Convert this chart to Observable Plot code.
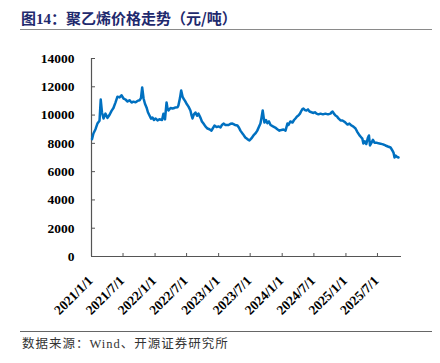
<!DOCTYPE html>
<html><head><meta charset="utf-8">
<script src="https://cdn.jsdelivr.net/npm/d3@7"></script>
<script src="https://cdn.jsdelivr.net/npm/@observablehq/plot@0.6"></script>
<style>
html,body{margin:0;padding:0;background:#fff;}
body{width:440px;height:363px;position:relative;overflow:hidden;}
#title{position:absolute;left:21px;top:7px;font-weight:bold;font-size:15px;font-family:"Liberation Serif","Noto Sans CJK SC",serif;color:#1f2a6e;white-space:nowrap;}
#title .cjk{font-family:"Noto Sans CJK SC",sans-serif;}
#rule1{position:absolute;left:20px;top:29px;width:412px;height:0;border-top:1.5px solid #8a8a8a;}
#chart{position:absolute;left:0;top:40px;}
#rule2{position:absolute;left:20px;top:331px;width:412px;height:0;border-top:1px solid #666;}
#caption{position:absolute;left:22px;top:333px;font-size:12.5px;font-family:"Liberation Serif","Noto Sans CJK SC",serif;color:#333;white-space:nowrap;letter-spacing:1px;}
</style>
</head><body>
<div id="title"><span class="cjk">图</span>14<span class="cjk">：聚乙烯价格走势（元/吨）</span></div>
<div id="rule1"></div>
<div id="chart"></div>
<div id="rule2"></div>
<div id="caption"><span style="font-family:'Noto Sans CJK SC'">数据来源：</span>Wind<span style="font-family:'Noto Sans CJK SC'">、开源证券研究所</span></div>
<script>
const dates = ["2021-01-04","2021-01-12","2021-01-24","2021-02-04","2021-02-16","2021-02-23","2021-03-02","2021-03-11","2021-03-22","2021-04-03","2021-04-14","2021-04-26","2021-05-07","2021-05-19","2021-05-30","2021-06-11","2021-06-22","2021-07-04","2021-07-15","2021-07-27","2021-08-07","2021-08-19","2021-08-30","2021-09-11","2021-09-22","2021-10-04","2021-10-12","2021-10-19","2021-10-27","2021-11-04","2021-11-13","2021-11-21","2021-11-30","2021-12-09","2021-12-17","2021-12-26","2022-01-03","2022-01-15","2022-01-26","2022-02-10","2022-02-18","2022-02-27","2022-03-08","2022-03-13","2022-03-19","2022-03-31","2022-04-11","2022-04-22","2022-04-28","2022-05-10","2022-05-15","2022-05-24","2022-05-31","2022-06-08","2022-06-13","2022-06-22","2022-06-30","2022-07-12","2022-07-23","2022-07-29","2022-08-04","2022-08-12","2022-08-21","2022-08-30","2022-09-07","2022-09-19","2022-09-27","2022-10-06","2022-10-17","2022-10-29","2022-11-09","2022-11-21","2022-11-30","2022-12-08","2022-12-20","2022-12-31","2023-01-12","2023-01-20","2023-01-29","2023-02-09","2023-02-27","2023-03-10","2023-03-21","2023-04-05","2023-04-19","2023-04-28","2023-05-06","2023-05-21","2023-06-03","2023-06-15","2023-06-27","2023-07-08","2023-07-20","2023-07-31","2023-08-11","2023-08-20","2023-08-29","2023-09-04","2023-09-11","2023-09-17","2023-09-21","2023-09-30","2023-10-08","2023-10-17","2023-10-26","2023-11-09","2023-11-22","2023-12-04","2023-12-16","2023-12-28","2024-01-08","2024-01-20","2024-01-31","2024-02-06","2024-02-17","2024-02-29","2024-03-09","2024-03-17","2024-03-26","2024-04-03","2024-04-12","2024-04-21","2024-04-26","2024-05-02","2024-05-11","2024-05-19","2024-05-28","2024-06-06","2024-06-17","2024-06-29","2024-07-07","2024-07-16","2024-07-27","2024-08-08","2024-08-22","2024-09-05","2024-09-20","2024-10-04","2024-10-10","2024-10-16","2024-10-24","2024-11-02","2024-11-11","2024-11-19","2024-12-01","2024-12-12","2024-12-21","2024-12-29","2025-01-10","2025-01-21","2025-02-02","2025-02-13","2025-02-25","2025-03-08","2025-03-20","2025-03-28","2025-04-05","2025-04-11","2025-04-19","2025-04-28","2025-05-07","2025-05-13","2025-05-19","2025-05-28","2025-06-05","2025-06-14","2025-06-25","2025-07-07","2025-07-18","2025-08-02","2025-08-16","2025-08-30","2025-09-14","2025-09-22","2025-10-01","2025-10-07","2025-10-12","2025-10-21","2025-10-30"];
const prices = [8300,8700,9000,9400,9600,11100,10200,9760,10100,9800,10000,10300,10500,10900,11300,11250,11400,11170,11100,10960,11050,10890,10950,10900,11000,11050,11200,11950,11170,10800,10540,10200,9970,9750,9830,9650,9760,9620,9700,9650,10100,9700,10890,10500,10320,10500,10460,10500,10540,10550,10680,11200,11740,11300,11170,11000,10820,10600,10320,10000,9760,10050,10180,9950,10100,9800,9550,9400,9200,9050,9000,8900,9100,9260,9150,9200,9120,9300,9400,9300,9300,9380,9400,9300,9260,9100,8900,8650,8410,8300,8200,8350,8560,8700,8900,9150,9400,9800,10320,9800,9470,9650,9420,9550,9300,9200,9120,9000,8900,8950,8980,8900,9400,9300,9550,9470,9650,9760,9900,9970,10100,10320,10420,10460,10350,10320,10400,10250,10200,10150,10200,10100,10050,10100,10050,10100,10050,10100,10200,10250,10100,9970,9900,9760,9620,9620,9550,9470,9330,9400,9260,9180,9050,8800,8560,8450,8340,7990,8150,7950,8400,8560,7850,8050,8250,8050,8050,8000,7980,7930,7850,7780,7710,7550,7350,7000,7140,7050,7000];
const yTicks = [0,2000,4000,6000,8000,10000,12000,14000];
const xTickLabels = ["2021/1/1","2021/7/1","2022/1/1","2022/7/1","2023/1/1","2023/7/1","2024/1/1","2024/7/1","2025/1/1","2025/7/1"];
const xDomainLabels = ["2021/1/1","2025/11/16"];

const parseSlash = s => { const [y,m,d] = s.split("/").map(Number); return new Date(Date.UTC(y, m-1, d)); };
const data = dates.map((d,i) => ({date: new Date(d + "T00:00:00Z"), value: prices[i]}));
const xTicks = xTickLabels.map(parseSlash);
const xDomain = xDomainLabels.map(parseSlash);
const fmt = d => `${d.getUTCFullYear()}/${d.getUTCMonth()+1}/${d.getUTCDate()}`;

const chart = Plot.plot({
  width: 440, height: 280,
  marginTop: 18, marginBottom: 64, marginLeft: 91, marginRight: 39,
  x: {type: "utc", domain: xDomain, label: null},
  y: {domain: [0, 14000], label: null},
  style: {fontFamily: "'Liberation Serif', serif", fontSize: "13.5px", fontWeight: "bold", color: "#000", background: "#fff"},
  marks: [
    Plot.axisY({ticks: yTicks, tickSize: 0, tickPadding: 17, tickFormat: d => String(d), label: null}),
    Plot.axisY({ticks: yTicks, tickSize: 4, dx: 4, tickFormat: () => "", stroke: "#555", label: null}),
    Plot.axisX({ticks: xTicks, tickSize: 0, tickRotate: -45, tickPadding: 22, dx: -1, tickFormat: fmt, label: null}),
    Plot.axisX({ticks: xTicks.slice(1), tickSize: 3, dy: -3, tickFormat: () => "", stroke: "#555", label: null}),
    Plot.ruleX([xDomain[0]], {stroke: "#555", strokeWidth: 1.2}),
    Plot.ruleY([0], {stroke: "#555", strokeWidth: 1.2}),
    Plot.lineY(data, {x: "date", y: "value", stroke: "#0070C0", strokeWidth: 2.5})
  ]
});
document.getElementById("chart").appendChild(chart);
</script>
</body></html>
